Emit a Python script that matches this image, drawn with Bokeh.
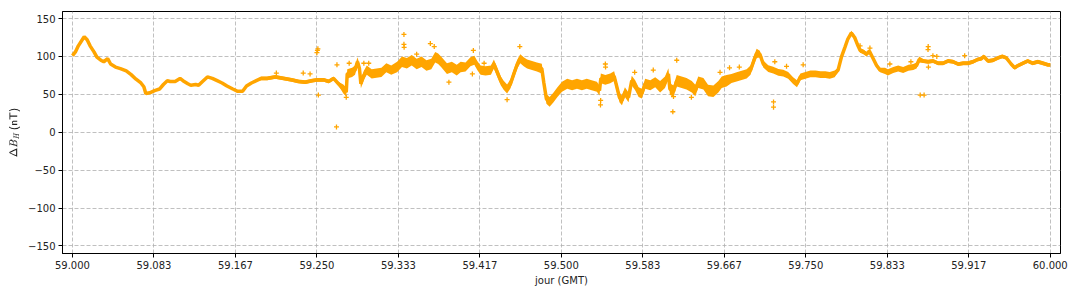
import numpy as np
from bokeh.plotting import figure
from bokeh.models import Range1d, FixedTicker
from bokeh.embed import file_html
from bokeh.resources import INLINE

# ---- data ----
day = [59.000, 59.003, 59.006, 59.010, 59.012, 59.015, 59.018, 59.022, 59.025, 59.029,
       59.032, 59.036, 59.039, 59.044, 59.049, 59.055, 59.060, 59.065, 59.070, 59.073,
       59.075, 59.079, 59.084, 59.089, 59.093, 59.097, 59.100, 59.105, 59.110, 59.113,
       59.118, 59.121, 59.126, 59.129, 59.133, 59.138, 59.143, 59.148, 59.153, 59.158,
       59.164, 59.169, 59.174, 59.178, 59.183, 59.188, 59.193, 59.199, 59.2075, 59.216,
       59.2245, 59.231, 59.238, 59.245, 59.250, 59.257, 59.262, 59.267, 59.272, 59.277,
       59.280, 59.281, 59.286, 59.289, 59.2915, 59.2935, 59.295, 59.298, 59.301, 59.306,
       59.311, 59.316, 59.321, 59.326, 59.332, 59.337, 59.342, 59.347, 59.352, 59.357,
       59.362, 59.367, 59.371, 59.374, 59.377, 59.383, 59.388, 59.393, 59.397, 59.402,
       59.407, 59.411, 59.414, 59.4174, 59.4225, 59.428, 59.431, 59.4345, 59.438, 59.441,
       59.4445, 59.448, 59.4514, 59.455, 59.458, 59.4615, 59.465, 59.470, 59.475, 59.480,
       59.482, 59.4847, 59.488, 59.492, 59.496, 59.5007, 59.506, 59.511, 59.516, 59.521,
       59.526, 59.531, 59.5363, 59.539, 59.5404, 59.545, 59.550, 59.554, 59.5567, 59.5594,
       59.562, 59.565, 59.5687, 59.572, 59.5755, 59.579, 59.5823, 59.5857, 59.591, 59.596,
       59.601, 59.606, 59.6095, 59.611, 59.6147, 59.618, 59.623, 59.628, 59.6334, 59.637,
       59.640, 59.6453, 59.650, 59.6555, 59.6606, 59.664, 59.669, 59.674, 59.6793, 59.6844,
       59.6895, 59.6935, 59.697, 59.6997, 59.703, 59.7065, 59.7116, 59.7167, 59.722, 59.727,
       59.732, 59.737, 59.741, 59.7445, 59.7496, 59.7547, 59.760, 59.765, 59.770, 59.7745,
       59.7795, 59.783, 59.7864, 59.790, 59.793, 59.7966, 59.800, 59.8034, 59.8055, 59.809,
       59.8122, 59.815, 59.819, 59.8224, 59.826, 59.831, 59.834, 59.8394, 59.8445, 59.8496,
       59.855, 59.860, 59.8633, 59.866, 59.870, 59.875, 59.8802, 59.8853, 59.8904, 59.8955,
       59.9006, 59.906, 59.911, 59.9159, 59.921, 59.926, 59.9296, 59.932, 59.9364, 59.9415,
       59.9466, 59.951, 59.9551, 59.960, 59.9636, 59.967, 59.972, 59.977, 59.982, 59.9873,
       59.9925, 59.9976, 60.000]
dbh = [101, 106, 114, 122, 126, 122, 114, 106, 99, 95,
       93, 97, 90, 86, 84, 81, 76, 70, 65, 60,
       51, 52, 55, 57, 63, 68, 67, 67, 71, 68,
       64, 62, 63, 62, 67, 73, 71, 68, 65, 61,
       57, 54, 54, 61, 65, 68, 71, 71, 73, 71,
       69, 67, 66, 68, 69, 69, 67, 71, 64, 57,
       53, 77, 79, 82, 93, 84, 64, 75, 82, 77,
       78, 79, 85, 82, 86, 93, 91, 95, 90, 93,
       88, 90, 99, 97, 93, 84, 86, 82, 86, 86,
       93, 95, 88, 82, 81, 82, 90, 79, 68, 62,
       57, 64, 77, 90, 97, 93, 90, 88, 86, 84,
       66, 44, 40, 46, 53, 60, 64, 62, 64, 62,
       64, 62, 60, 55, 71, 69, 71, 74, 60, 46,
       42, 53, 46, 68, 62, 53, 51, 64, 62, 66,
       60, 66, 77, 57, 54, 68, 66, 64, 60, 55,
       66, 64, 55, 54, 60, 66, 68, 71, 73, 75,
       77, 82, 95, 104, 103, 90, 84, 82, 79, 78,
       75, 68, 64, 73, 75, 77, 77, 76, 76, 75,
       77, 82, 99, 112, 123, 131, 125, 114, 108, 106,
       103, 107, 97, 88, 82, 81, 79, 82, 84, 82,
       85, 86, 88, 96, 94, 93, 94, 91, 91, 94,
       93, 90, 91, 91, 93, 96, 97, 100, 94, 95,
       98, 100, 98, 90, 85, 88, 91, 94, 91, 93,
       91, 89, 89]

# scatter half-width of the noisy band (nT), by stretch of day
spread_start = [59.000, 59.190, 59.275, 59.330, 59.400, 59.480, 59.600, 59.670, 59.700, 59.780, 59.830, 59.870]
spread_value = [0.8, 2.5, 6.0, 7.0, 6.0, 6.5, 7.5, 6.0, 4.5, 3.0, 4.0, 2.5]

# isolated points away from the band
out_day = [59.2085, 59.236, 59.243, 59.250, 59.2505, 59.251, 59.2515, 59.270, 59.2705, 59.280,
           59.283, 59.298, 59.303, 59.339, 59.339, 59.3392, 59.352, 59.366, 59.370, 59.385,
           59.409, 59.410, 59.421, 59.4445, 59.4575, 59.540, 59.5402, 59.545, 59.5452, 59.575,
           59.594, 59.614, 59.6147, 59.618, 59.633, 59.6623, 59.672, 59.682, 59.717, 59.717,
           59.7183, 59.7303, 59.7473, 59.8055, 59.8156, 59.836, 59.8575, 59.867, 59.871, 59.875,
           59.8752, 59.8754, 59.880, 59.884, 59.9125]
out_dbh = [78, 78, 77, 105, 108, 110, 49, 7, 89, 46,
           91, 91, 91, 129, 116, 112, 103, 117, 113, 66,
           77, 108, 91, 43, 113, 36, 42, 90, 86, 79,
           82, 27, 47, 95, 46, 79, 85, 86, 40, 33,
           93, 87, 89, 114, 111, 90, 93, 49, 49, 109,
           113, 86, 101, 100, 101]

x_tick_labels = ["59.000", "59.083", "59.167", "59.250", "59.333", "59.417",
                 "59.500", "59.583", "59.667", "59.750", "59.833", "59.917", "60.000"]
y_ticks = [-150, -100, -50, 0, 50, 100, 150]
y_tick_labels = ["\u2212150", "\u2212100", "\u221250", "0", "50", "100", "150"]

# ---- figure ----
FONT = "DejaVu Sans"
ORANGE = "#FFA500"

p = figure(width=1080, height=295, output_backend="svg", toolbar_location=None,
           x_range=Range1d(58.9898, 60.0105), y_range=Range1d(-160, 159.3),
           min_border_left=62, min_border_right=20, min_border_top=11, min_border_bottom=42,
           background_fill_color="white", border_fill_color="white")
p.outline_line_color = "black"
p.outline_line_width = 1
p.outline_line_alpha = 1.0

x_ticks = [59 + i / 12 for i in range(len(x_tick_labels))]
p.xaxis.ticker = FixedTicker(ticks=x_ticks)
p.xaxis.major_label_overrides = {t: l for t, l in zip(x_ticks, x_tick_labels)}
p.yaxis.ticker = FixedTicker(ticks=y_ticks)
p.yaxis.major_label_overrides = {t: l for t, l in zip(y_ticks, y_tick_labels)}

for ax in (p.xaxis, p.yaxis):
    ax.minor_tick_line_color = None
    ax.major_tick_in = 0
    ax.major_tick_out = 4
    ax.major_tick_line_color = "black"
    ax.axis_line_color = "black"
    ax.major_label_text_font = FONT
    ax.major_label_text_font_size = "10px"
    ax.major_label_text_color = "#222222"
    ax.major_label_standoff = 3
    ax.axis_label_text_font = FONT
    ax.axis_label_text_font_size = "10px"
    ax.axis_label_text_font_style = "normal"
    ax.axis_label_text_color = "#222222"

p.xaxis.axis_label = "jour (GMT)"
p.xaxis.axis_label_standoff = 3
p.yaxis.axis_label = r"$$\mathsf{\Delta}\mathit{B_H}\ \mathsf{(nT)}$$"
p.yaxis.axis_label_text_font_size = "8.5px"
p.yaxis.axis_label_standoff = 5

p.grid.grid_line_color = "#b0b0b0"
p.grid.grid_line_dash = "4 2"
p.grid.grid_line_width = 0.8

# band
d = np.array(day)
v = np.array(dbh, dtype=float)
idx = np.searchsorted(np.array(spread_start), d, side="right") - 1
s = np.array(spread_value)[idx]
p.varea(x=d, y1=v - s, y2=v + s, fill_color=ORANGE)
p.line(d, v, line_color=ORANGE, line_width=3.5)
p.scatter(out_day, out_dbh, marker="cross", size=5, line_color=ORANGE, line_width=1.3)

open("out.html", "w").write(file_html(p, INLINE))
